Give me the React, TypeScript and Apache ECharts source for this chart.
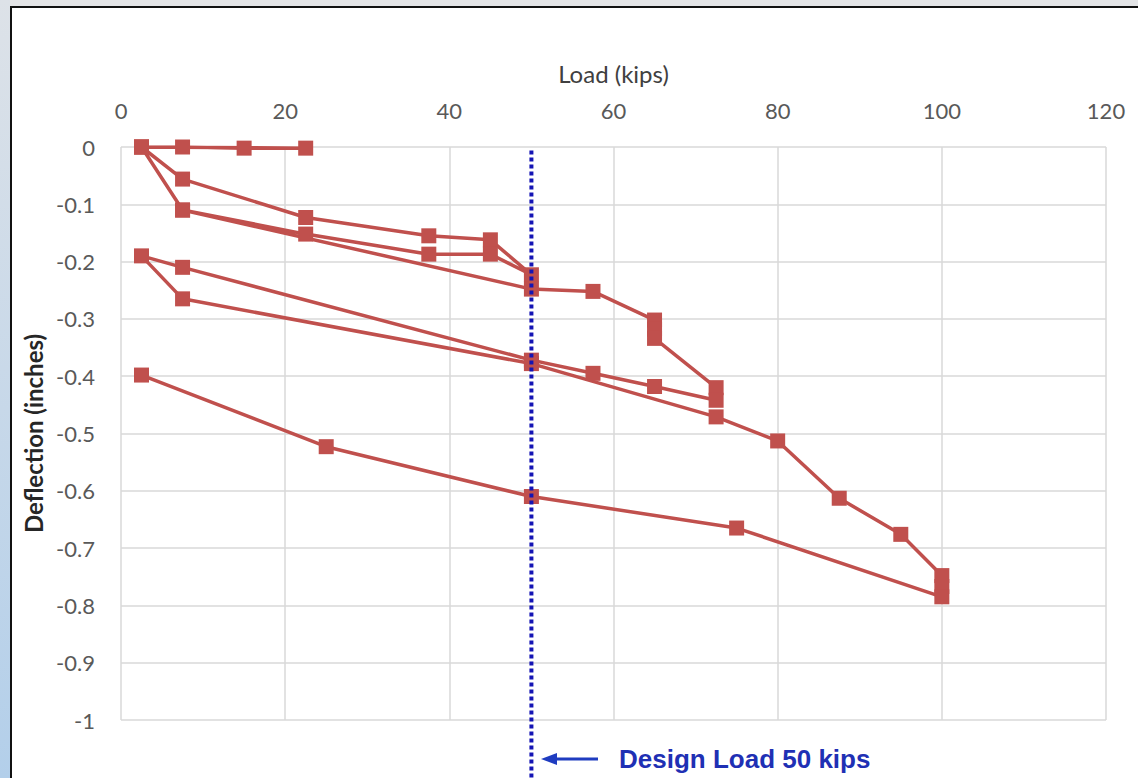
import React, { useEffect, useRef } from "react";
import * as echarts from "echarts";

// Load test path (loading / unloading cycles)
const loadKips = [
  2.5, 7.5, 15, 22.5, 2.5,
  7.5, 22.5, 37.5, 45, 50,
  45, 37.5, 22.5, 7.5, 2.5,
  7.5, 50, 57.5, 65, 65, 65, 72.5, 72.5,
  65, 57.5, 50, 7.5, 2.5,
  7.5, 50, 72.5, 80, 87.5, 95, 100, 100, 100, 75, 50, 25, 2.5,
];
const deflectionIn = [
  0, 0, -0.002, -0.002, 0,
  -0.056, -0.123, -0.155, -0.162, -0.223,
  -0.187, -0.187, -0.152, -0.11, 0,
  -0.11, -0.248, -0.252, -0.302, -0.318, -0.334, -0.42, -0.442,
  -0.418, -0.395, -0.372, -0.21, -0.19,
  -0.265, -0.378, -0.471, -0.513, -0.613, -0.676, -0.748, -0.767, -0.785, -0.665, -0.61, -0.523, -0.398,
];

const designLoad = 50;
const designLineDeflection = [-0.006, -1.11];
const designLabel = "Design Load 50 kips";
const xName = "Load (kips)";
const yName = "Deflection (inches)";

export default function App() {
  const ref = useRef<HTMLDivElement>(null);

  useEffect(() => {
    document.body.style.margin = "0";
    const chart = echarts.init(ref.current!, null, { renderer: "svg" });
    const pts = loadKips.map((x, i) => [x, deflectionIn[i]]);
    const font = "Lato, 'Open Sans', sans-serif";

    chart.setOption({
      animation: false,
      backgroundColor: "#ffffff",
      grid: { left: 121, right: 32, top: 147, bottom: 58 },
      xAxis: {
        type: "value",
        position: "top",
        min: 0,
        max: 120,
        interval: 20,
        name: xName,
        nameLocation: "middle",
        nameGap: 62,
        nameTextStyle: { fontFamily: font, fontSize: 24, color: "#404040" },
        axisLine: { show: false },
        axisTick: { show: false },
        axisLabel: { fontFamily: font, fontSize: 22, color: "#595959", margin: 26 },
        splitLine: { show: true, lineStyle: { color: "#d9d9d9", width: 1.5 } },
      },
      yAxis: {
        type: "value",
        min: -1,
        max: 0,
        interval: 0.1,
        name: yName,
        nameLocation: "middle",
        nameGap: 74,
        nameTextStyle: { fontFamily: font, fontSize: 24, fontWeight: "bold", color: "#262626" },
        axisLine: { show: false },
        axisTick: { show: false },
        axisLabel: {
          fontFamily: font,
          fontSize: 22,
          color: "#595959",
          margin: 26,
          formatter: (v: number) => String(Math.round(v * 10) / 10),
        },
        splitLine: { show: true, lineStyle: { color: "#d9d9d9", width: 1.5 } },
      },
      series: [
        {
          type: "line",
          data: pts,
          symbol: "rect",
          symbolSize: 15,
          itemStyle: { color: "#C0504D" },
          lineStyle: { color: "#C0504D", width: 3.5 },
          z: 2,
        },
        {
          type: "line",
          data: designLineDeflection.map((d) => [designLoad, d]),
          showSymbol: false,
          symbol: "none",
          clip: false,
          lineStyle: { color: "#1414B4", width: 4, type: [4, 3] },
          z: 3,
        },
      ],
      graphic: [
        { type: "rect", shape: { x: 0, y: 0, width: 1138, height: 6 }, style: { fill: "#e3e4e6" }, silent: true },
        {
          type: "rect",
          shape: { x: 0, y: 0, width: 10, height: 778 },
          style: {
            fill: new echarts.graphic.LinearGradient(0, 0, 0, 1, [
              { offset: 0, color: "#dde2e8" },
              { offset: 1, color: "#b3cfea" },
            ]),
          },
          silent: true,
        },
        { type: "line", shape: { x1: 11, y1: 6, x2: 11, y2: 778 }, style: { stroke: "#111", lineWidth: 2 }, silent: true },
        { type: "line", shape: { x1: 10, y1: 7, x2: 1138, y2: 7 }, style: { stroke: "#111", lineWidth: 2 }, silent: true },
        { type: "line", shape: { x1: 598, y1: 759, x2: 553, y2: 759 }, style: { stroke: "#1F3CC0", lineWidth: 3 }, silent: true },
        {
          type: "polygon",
          shape: { points: [[541, 759], [557, 753], [557, 765]] },
          style: { fill: "#1F3CC0" },
          silent: true,
        },
        {
          type: "text",
          x: 619,
          y: 759,
          style: {
            text: designLabel,
            fontFamily: "'Liberation Sans', Arial, sans-serif",
            fontSize: 26,
            fontWeight: "bold",
            fill: "#1F30B4",
            verticalAlign: "middle",
            align: "left",
          },
          silent: true,
        },
      ],
    });

    return () => chart.dispose();
  }, []);

  return <div ref={ref} style={{ width: 1138, height: 778 }} />;
}
